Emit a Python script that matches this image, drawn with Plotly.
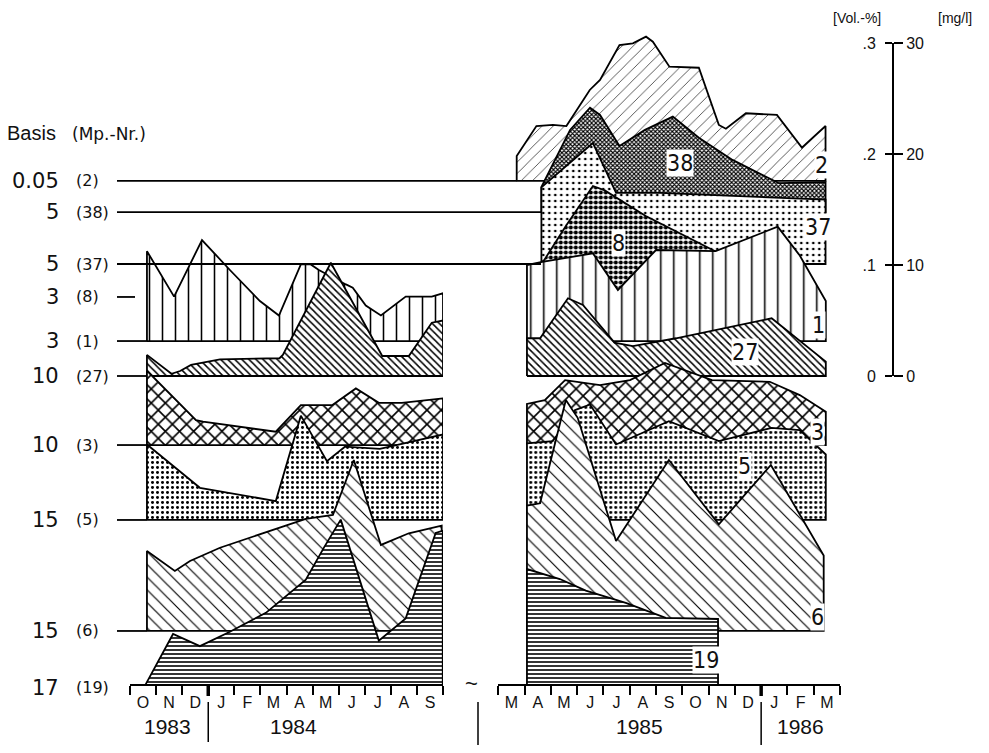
import plotly.graph_objects as go

# ---------------- data ----------------
MONTHS_L = ["O", "N", "D", "J", "F", "M", "A", "M", "J", "J", "A", "S"]
MONTHS_R = ["M", "A", "M", "J", "J", "A", "S", "O", "N", "D", "J", "F", "M"]
YEARS = ["1983", "1984", "1985", "1986"]

ROWS = ["2", "38", "37", "8", "1", "27", "3", "5", "6", "19"]
BASIS = ["0.05", "5", "5", "3", "3", "10", "10", "15", "15", "17"]

# left panel: months since 1 Oct 1983 ; values: mg/l above the basis line
m1_L = [0.65, 1.69, 2.76, 3.83, 4.98, 5.71, 6.55, 6.93, 7.24, 8.28, 8.54, 9.04, 9.62, 10.57, 11.57, 12.0]
v1_L = [8.1, 4.0, 9.1, 6.4, 3.6, 2.3, 6.9, 6.9, 6.4, 5.1, 4.8, 3.2, 2.3, 4.0, 4.0, 4.3]
m27_L = [0.65, 1.59, 1.92, 2.34, 3.45, 5.73, 5.86, 7.70, 9.67, 10.69, 11.57, 12.0]
v27_L = [1.9, 0.2, 0.45, 1.0, 1.5, 1.6, 1.9, 10.2, 1.8, 1.8, 4.8, 5.0]
m3_L = [0.65, 2.53, 2.80, 5.59, 6.55, 7.76, 8.66, 9.54, 10.42, 12.0]
v3_L = [6.7, 2.25, 2.1, 1.2, 3.6, 3.6, 5.1, 3.8, 3.8, 4.2]
m5_L = [0.65, 2.68, 5.59, 6.55, 7.55, 8.24, 9.58, 12.0]
v5_L = [6.8, 2.9, 1.7, 9.4, 5.3, 6.6, 6.4, 7.7]
m6_L = [0.65, 1.72, 2.30, 3.45, 6.74, 7.78, 8.58, 9.62, 10.69, 11.95]
v6_L = [7.2, 5.4, 6.3, 7.5, 10.1, 10.45, 15.4, 7.75, 8.8, 9.5]
m19_L = [0.61, 1.65, 2.68, 3.83, 5.21, 6.74, 7.44, 8.08, 9.54, 10.57, 11.72, 11.99]
v19_L = [0.1, 4.6, 3.5, 4.8, 6.5, 9.5, 12.4, 14.9, 4.0, 6.0, 13.7, 13.9]

# right panel: months since 1 Mar 1985
m2_R = [0.70, 1.45, 2.08, 2.59, 3.48, 3.87, 4.61, 5.12, 5.62, 5.88, 6.51, 7.63, 8.39, 8.66, 9.42, 10.60, 11.55, 12.45]
v2_R = [2.25, 4.95, 5.05, 4.95, 8.2, 9.1, 12.25, 12.4, 13.0, 12.55, 10.3, 10.2, 5.05, 4.7, 6.1, 5.95, 3.0, 4.95]
m38_R = [1.64, 2.73, 3.49, 3.87, 4.61, 5.58, 6.64, 7.63, 8.91, 10.68, 12.45]
v38_R = [2.25, 7.4, 9.4, 8.75, 5.95, 7.4, 8.6, 6.7, 4.7, 2.6, 2.7]
m37_R = [1.64, 3.60, 4.48, 6.15, 8.43, 10.68, 12.45]
v37_R = [6.9, 10.9, 6.4, 6.4, 6.2, 5.95, 5.8]
m8_R = [1.70, 2.57, 3.60, 4.05, 5.61, 8.27, 9.38, 9.95]
v8_R = [3.15, 6.4, 10.0, 9.6, 7.3, 4.1, 2.0, 0.0]
m1_R = [1.09, 1.62, 3.60, 4.55, 6.00, 8.27, 10.63, 11.47, 12.46]
v1_R = [6.85, 7.1, 7.9, 4.6, 8.2, 8.1, 10.3, 7.7, 3.6]
m27_R = [1.09, 1.59, 2.65, 3.22, 4.42, 5.12, 6.76, 10.40, 12.46]
v27_R = [3.4, 3.4, 7.0, 6.4, 3.0, 2.7, 3.4, 5.2, 1.3]
m3_R = [1.09, 1.77, 2.54, 3.87, 5.01, 6.34, 8.13, 10.33, 11.47, 12.46]
v3_R = [3.7, 4.05, 5.85, 5.4, 5.85, 7.4, 5.85, 5.7, 4.5, 3.0]
m5_R = [1.09, 2.07, 2.92, 3.49, 4.48, 6.49, 8.39, 10.40, 11.47, 12.46]
v5_R = [6.9, 7.1, 9.9, 10.4, 6.8, 8.9, 7.1, 8.3, 8.1, 5.9]
m6_R = [1.09, 1.59, 2.57, 3.02, 4.48, 6.49, 8.39, 10.37, 12.38]
v6_R = [11.3, 11.5, 20.8, 19.2, 8.1, 15.4, 9.6, 14.95, 6.8]
m19_R = [1.09, 2.34, 3.33, 4.85, 6.37, 8.36]
v19_R = [10.45, 9.55, 8.5, 7.4, 6.05, 5.95]

LEFT = {"1": (m1_L, v1_L), "27": (m27_L, v27_L), "3": (m3_L, v3_L),
        "5": (m5_L, v5_L), "6": (m6_L, v6_L), "19": (m19_L, v19_L)}
RIGHT = {"2": (m2_R, v2_R), "38": (m38_R, v38_R), "37": (m37_R, v37_R),
         "8": (m8_R, v8_R), "1": (m1_R, v1_R), "27": (m27_R, v27_R),
         "3": (m3_R, v3_R), "5": (m5_R, v5_R), "6": (m6_R, v6_R), "19": (m19_R, v19_R)}

# ---------------- layout helpers ----------------
W, H = 989, 753
PXU = 11.1          # pixels per mg/l on the right-hand scale
ZERO_PX = 376       # pixel row of the scale's zero (basis line of row 27)
Y_RANGE = [(ZERO_PX - H) / PXU, ZERO_PX / PXU]

# vertical placement of each basis line (scale units relative to row 27)
ROW_BASE = {"2": 17.57, "38": 14.77, "37": 10.09, "8": 7.12, "1": 3.15,
            "27": 0.0, "3": -6.22, "5": -12.97, "6": -22.97, "19": -27.84}

PAT = {
    "2": dict(shape="/", size=8, solidity=0.08),
    "38": dict(shape="x", size=3, solidity=0.6),
    "37": dict(shape=".", size=6, solidity=0.16),
    "8": dict(shape=".", size=5, solidity=0.55),
    "1": dict(shape="|", size=13, solidity=0.12),
    "27": dict(shape="\\", size=5, solidity=0.3),
    "3": dict(shape="x", size=10, solidity=0.3),
    "5": dict(shape=".", size=5, solidity=0.28),
    "6": dict(shape="\\", size=9, solidity=0.13),
    "19": dict(shape="-", size=4, solidity=0.4),
}

FONT = "Liberation Sans, Arial, sans-serif"
WIDE = "DejaVu Sans, Verdana, sans-serif"
NARROW = "Liberation Sans Narrow, DejaVu Sans Condensed, Liberation Sans, sans-serif"


def px(x):
    return x / W


def py(y):
    return 1 - y / H


fig = go.Figure()


def add_area(row, months, vals, xaxis):
    b = ROW_BASE[row]
    xs = [months[0]] + list(months) + [months[-1], months[0]]
    ys = [b] + [b + v for v in vals] + [b, b]
    p = PAT[row]
    fig.add_trace(go.Scatter(
        x=xs, y=ys, xaxis=xaxis, yaxis="y", mode="lines", fill="toself",
        fillcolor="white",
        fillpattern=dict(shape=p["shape"], size=p["size"], solidity=p["solidity"],
                         fgcolor="black", bgcolor="white", fillmode="replace"),
        line=dict(color="black", width=1.8), hoverinfo="skip", showlegend=False))


for r in ROWS:
    if r in LEFT:
        add_area(r, *LEFT[r], "x")
for r in ROWS:
    if r in RIGHT:
        add_area(r, *RIGHT[r], "x2")

# empty traces so the scale axes are drawn
for ya in ("y2", "y3"):
    fig.add_trace(go.Scatter(x=[None], y=[None], xaxis="x2", yaxis=ya,
                             showlegend=False, hoverinfo="skip"))

shapes = []
# guide lines from the basis labels
GUIDE_END = {"2": 517, "38": 541, "37": 541, "8": 135, "1": 147, "27": 147,
             "3": 147, "5": 147, "6": 147}
for r, xe in GUIDE_END.items():
    shapes.append(dict(type="line", xref="paper", yref="y", x0=px(117), x1=px(xe),
                       y0=ROW_BASE[r], y1=ROW_BASE[r], line=dict(color="black", width=1.8),
                       layer="above"))
# thick january ticks
shapes.append(dict(type="line", xref="x", yref="paper", x0=3, x1=3, y0=py(685), y1=py(696),
                   line=dict(color="black", width=3.5)))
shapes.append(dict(type="line", xref="x2", yref="paper", x0=10, x1=10, y0=py(685), y1=py(696),
                   line=dict(color="black", width=3.5)))
# year separators
shapes.append(dict(type="line", xref="x", yref="paper", x0=3, x1=3, y0=py(702), y1=py(742),
                   line=dict(color="black", width=1.5)))
shapes.append(dict(type="line", xref="x2", yref="paper", x0=10, x1=10, y0=py(702), y1=py(745),
                   line=dict(color="black", width=1.5)))
shapes.append(dict(type="line", xref="paper", yref="paper", x0=px(478), x1=px(478), y0=py(702),
                   y1=py(745), line=dict(color="black", width=1.5)))

ann = []
# basis labels
ann.append(dict(text="Basis", x=px(5), y=py(133), xref="paper", yref="paper",
                xanchor="left", yanchor="middle", showarrow=False,
                font=dict(size=20, family=FONT, color="#111")))
ann.append(dict(text="(Mp.-Nr.)", x=px(70), y=py(134), xref="paper", yref="paper",
                xanchor="left", yanchor="middle", showarrow=False,
                font=dict(size=17, family=WIDE, color="#111")))
for r, b in zip(ROWS, BASIS):
    yv = ROW_BASE[r] - (0.25 if r == "19" else 0)
    ann.append(dict(text=b, x=px(61), y=yv, xref="paper", yref="y", xanchor="right",
                    yanchor="middle", showarrow=False,
                    font=dict(size=21, family=WIDE, color="#111")))
    ann.append(dict(text="(%s)" % r, x=px(74), y=yv, xref="paper", yref="y", xanchor="left",
                    yanchor="middle", showarrow=False,
                    font=dict(size=16, family=WIDE, color="#111")))

# series labels inside the right panel
SERIES_LABEL_POS = {"2": (12.31, 19.0), "38": (6.90, 19.2), "37": (12.15, 13.4),
                    "8": (4.59, 12.0), "1": (12.19, 4.6), "27": (9.38, 2.2),
                    "3": (12.15, -5.0), "5": (9.38, -8.1), "6": (12.15, -21.7),
                    "19": (7.89, -25.6)}
for r, (xm, yv) in SERIES_LABEL_POS.items():
    ann.append(dict(text=r, x=xm, y=yv, xref="x2", yref="y", showarrow=False,
                    xanchor="center", yanchor="middle",
                    bgcolor="white", borderpad=0,
                    font=dict(size=23, family=NARROW, color="#111")))

# years
for t, xr, xv in zip(YEARS, ["x", "x", "x2", "x2"], [1.42, 6.25, 5.39, 11.48]):
    ann.append(dict(text=t, x=xv, y=py(726), xref=xr, yref="paper", showarrow=False,
                    xanchor="center", yanchor="middle",
                    font=dict(size=21, family=FONT, color="#111")))
ann.append(dict(text="~", x=px(471), y=py(683), xref="paper", yref="paper", showarrow=False,
                xanchor="center", yanchor="middle",
                font=dict(size=22, family=FONT, color="#111")))
# scale header
ann.append(dict(text="[Vol.-%]", x=px(857), y=py(18), xref="paper", yref="paper",
                xanchor="center", yanchor="middle",
                showarrow=False, font=dict(size=14, family=FONT, color="#111")))
ann.append(dict(text="[mg/l]", x=px(955), y=py(18), xref="paper", yref="paper",
                xanchor="center", yanchor="middle",
                showarrow=False, font=dict(size=14, family=FONT, color="#111")))

xcommon = dict(anchor="free", position=1 - 685 / H, showline=True, linecolor="black",
               linewidth=2, ticks="", ticklabelstandoff=3, showgrid=False, zeroline=False,
               automargin=False,
               tickfont=dict(size=16, family=FONT, color="#111"), fixedrange=True)

fig.update_layout(
    width=W, height=H, margin=dict(l=0, r=0, t=0, b=0, pad=0, autoexpand=False),
    paper_bgcolor="white", plot_bgcolor="rgba(0,0,0,0)", showlegend=False,
    xaxis=dict(domain=[px(130), px(443)], range=[0, 12], tickmode="array",
               tickvals=[i + 0.5 for i in range(12)], ticktext=MONTHS_L,
               minor=dict(tickmode="array", tickvals=list(range(13)), ticks="outside",
                          ticklen=9, tickwidth=1.6, tickcolor="black", showgrid=False),
               **xcommon),
    xaxis2=dict(domain=[px(498.3), px(840)], range=[0, 13], tickmode="array",
                tickvals=[i + 0.5 for i in range(13)], ticktext=MONTHS_R,
                minor=dict(tickmode="array", tickvals=list(range(14)), ticks="outside",
                           ticklen=9, tickwidth=1.6, tickcolor="black", showgrid=False),
                **xcommon),
    yaxis=dict(domain=[0, 1], range=Y_RANGE, visible=False, fixedrange=True,
               automargin=False),
    yaxis2=dict(domain=[py(376), py(43)], range=[0, 30], anchor="free", position=px(893),
                side="right", showline=True, linecolor="black", linewidth=2,
                tickvals=[0, 10, 20, 30], ticktext=["0", "10", "20", "30"],
                ticks="outside", ticklen=9, tickwidth=1.6, tickcolor="black",
                showgrid=False, zeroline=False, fixedrange=True, automargin=False,
                tickfont=dict(size=16, family=FONT, color="#111")),
    yaxis3=dict(domain=[py(376), py(43)], range=[0, 30], anchor="free", position=px(893),
                side="left", showline=True, linecolor="black", linewidth=2,
                tickvals=[0, 10, 20, 30], ticktext=["0", ".1", ".2", ".3"],
                ticks="outside", ticklen=7, tickwidth=1.6, tickcolor="black",
                ticklabelstandoff=6, automargin=False,
                showgrid=False, zeroline=False, fixedrange=True,
                tickfont=dict(size=16, family=FONT, color="#111")),
    shapes=shapes, annotations=ann,
)

fig.write_html("out.html", config={"displayModeBar": False},
               post_script="document.body.style.margin='0';")
